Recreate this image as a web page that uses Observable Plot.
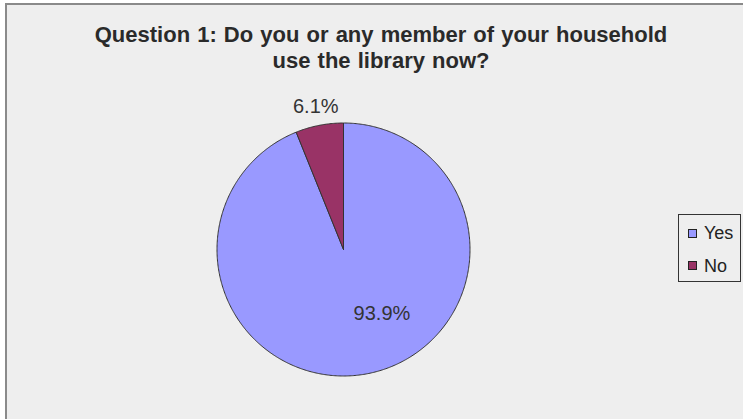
<!DOCTYPE html>
<html><head><meta charset="utf-8">
<script src="https://cdn.jsdelivr.net/npm/d3@7"></script>
<script src="https://cdn.jsdelivr.net/npm/@observablehq/plot@0.6"></script>
<style>
body{margin:0;background:#fff;width:743px;height:419px;overflow:hidden;position:relative;font-family:"Liberation Sans",Arial,sans-serif}
#frame{position:absolute;left:5px;top:3px;width:800px;height:500px;border:2px solid #8a8a8a;background:#eeeeee}
#title{position:absolute;left:0;width:762px;top:22px;text-align:center;font-weight:bold;font-size:22px;line-height:26px;color:#2a2a2a;word-spacing:1px}
#chart{position:absolute;left:0;top:0}
#legend{position:absolute;left:678px;top:214px;width:63px;height:68px;border:1px solid #333;box-sizing:border-box;background:#eee;font-size:18px;color:#222}
.item{position:absolute;left:9px;display:flex;align-items:center;height:20px;line-height:20px}
.sw{width:7px;height:7px;border:1px solid #222;margin-right:7px}
</style></head>
<body>
<div id="frame"></div>
<div id="chart"></div>
<div id="title">Question 1: Do you or any member of your household<br>use the library now?</div>
<div id="legend"></div>
<script>
const categories = ["Yes", "No"];
const values = [93.9, 6.1];
const labels = ["93.9%", "6.1%"];
const colors = ["#9999FF", "#993366"];

const arcs = d3.pie().sort(null).value(d => d)(values);
const poly = [];
arcs.forEach((a, i) => {
  const cat = categories[i];
  poly.push({cat, x: 0, y: 0});
  const n = Math.max(2, Math.ceil((a.endAngle - a.startAngle) / 0.01));
  for (let k = 0; k <= n; k++) {
    const t = a.startAngle + (a.endAngle - a.startAngle) * k / n;
    poly.push({cat, x: Math.sin(t), y: Math.cos(t)});
  }
  poly.push({cat, x: 0, y: 0});
});
// label placement (layout): radius factor and angle offset per slice
const labelLayout = [{r: 0.59, off: -0.35}, {r: 1.15, off: 0}];
const labelData = arcs.map((a, i) => {
  const t = (a.startAngle + a.endAngle) / 2 + labelLayout[i].off;
  return {text: labels[i], x: labelLayout[i].r * Math.sin(t), y: labelLayout[i].r * Math.cos(t)};
});

const chart = Plot.plot({
  width: 743, height: 419,
  marginLeft: 216.5, marginRight: 273.5, marginTop: 122.5, marginBottom: 43.5,
  x: {domain: [-1, 1], axis: null},
  y: {domain: [-1, 1], axis: null},
  color: {domain: categories, range: colors},
  style: {background: "transparent", overflow: "visible"},
  marks: [
    Plot.line(poly, {x: "x", y: "y", z: "cat", fill: "cat", stroke: "#333", strokeWidth: 1, curve: "linear"}),
    Plot.text(labelData, {x: "x", y: "y", text: "text", fontSize: 20, fill: "#333", fontFamily: "Liberation Sans, Arial, sans-serif"})
  ]
});
document.getElementById("chart").appendChild(chart);

const leg = document.getElementById("legend");
categories.forEach((c, i) => {
  const it = document.createElement("div");
  it.className = "item";
  it.style.top = (i === 0 ? 8 : 40.5) + "px";
  it.innerHTML = `<span class="sw" style="background:${colors[i]}"></span><span>${c}</span>`;
  leg.appendChild(it);
});
</script>
</body></html>
